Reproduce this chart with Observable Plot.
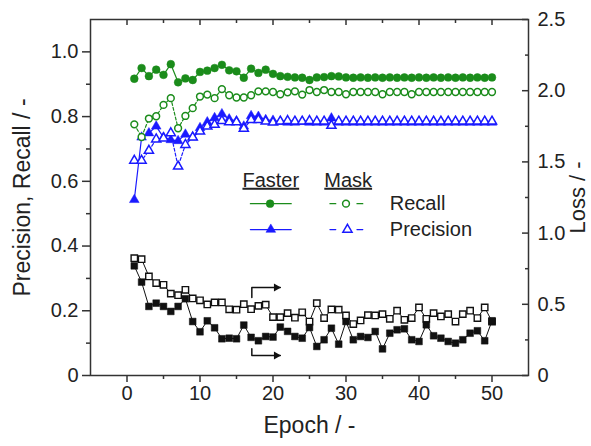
<!DOCTYPE html>
<html><head><meta charset="utf-8">
<script src="https://cdn.jsdelivr.net/npm/d3@7"></script>
<script src="https://cdn.jsdelivr.net/npm/@observablehq/plot@0.6"></script>
<style>body{margin:0;background:#fff}</style>
</head><body><div id="chart"></div>
<script>
// ---- data ----
const epochs = [1,2,3,4,5,6,7,8,9,10,11,12,13,14,15,16,17,18,19,20,21,22,23,24,25,26,27,28,29,30,31,32,33,34,35,36,37,38,39,40,41,42,43,44,45,46,47,48,49,50];
const fasterRecall = [0.917,0.950,0.925,0.945,0.929,0.962,0.906,0.918,0.913,0.938,0.942,0.950,0.960,0.943,0.940,0.920,0.948,0.935,0.945,0.932,0.925,0.923,0.921,0.920,0.913,0.921,0.922,0.925,0.924,0.921,0.920,0.921,0.920,0.921,0.920,0.921,0.920,0.921,0.920,0.921,0.920,0.921,0.920,0.921,0.920,0.921,0.920,0.921,0.920,0.921];
const maskRecall = [0.776,0.737,0.794,0.801,0.836,0.857,0.764,0.802,0.826,0.862,0.868,0.857,0.885,0.866,0.859,0.859,0.866,0.878,0.878,0.876,0.869,0.875,0.878,0.868,0.882,0.876,0.882,0.876,0.876,0.869,0.876,0.876,0.876,0.876,0.869,0.876,0.876,0.876,0.869,0.876,0.876,0.876,0.876,0.876,0.876,0.876,0.876,0.876,0.876,0.876];
const fasterPrecision = [0.543,0.736,0.749,0.770,0.736,0.728,0.725,0.745,0.736,0.765,0.783,0.796,0.808,0.792,0.786,0.770,0.802,0.800,0.790,0.788,0.784,0.782,0.782,0.784,0.782,0.782,0.782,0.795,0.782,0.782,0.782,0.782,0.782,0.782,0.782,0.782,0.782,0.782,0.782,0.782,0.782,0.782,0.782,0.782,0.782,0.782,0.782,0.782,0.782,0.782];
const maskPrecision = [0.664,0.664,0.695,0.730,0.733,0.749,0.646,0.713,0.736,0.754,0.770,0.775,0.787,0.783,0.783,0.763,0.790,0.790,0.785,0.782,0.785,0.787,0.785,0.785,0.787,0.785,0.785,0.772,0.785,0.785,0.785,0.785,0.785,0.785,0.785,0.785,0.785,0.785,0.785,0.785,0.785,0.785,0.785,0.785,0.785,0.785,0.785,0.785,0.785,0.785];
const fasterLoss = [0.770,0.656,0.485,0.508,0.485,0.450,0.485,0.539,0.379,0.307,0.384,0.335,0.258,0.262,0.258,0.354,0.268,0.244,0.274,0.270,0.340,0.310,0.274,0.262,0.337,0.204,0.251,0.332,0.220,0.379,0.251,0.274,0.267,0.309,0.187,0.297,0.321,0.328,0.251,0.239,0.356,0.279,0.262,0.239,0.227,0.251,0.297,0.314,0.244,0.384];
const maskLoss = [0.824,0.817,0.696,0.649,0.637,0.575,0.564,0.602,0.541,0.528,0.499,0.513,0.513,0.465,0.462,0.501,0.466,0.489,0.497,0.410,0.410,0.438,0.406,0.444,0.379,0.508,0.403,0.464,0.462,0.422,0.361,0.387,0.424,0.422,0.431,0.398,0.455,0.391,0.403,0.478,0.398,0.438,0.415,0.431,0.379,0.431,0.455,0.403,0.478,0.379];

const xTicks = [0,10,20,30,40,50];
const xMinor = [5,15,25,35,45];
const leftTicks = [0,0.2,0.4,0.6,0.8,1.0];
const leftMinor = [0.1,0.3,0.5,0.7,0.9];
const rightTicks = [0,0.5,1.0,1.5,2.0,2.5];
const rightMinor = [0.25,0.75,1.25,1.75,2.25];
const legendHeaders = ["Faster","Mask"];
const legendRows = ["Recall","Precision"];
const xTitle = "Epoch / -";
const yTitle = "Precision, Recall / -";
const y2Title = "Loss / -";

// ---- layout ----
const W = 591, H = 446, mL = 90, mR = 63, mT = 19, mB = 71;
const xDom = [-5, 55], yDom = [0, 1.1], lossMax = 2.5;
const k = yDom[1] / lossMax;
const pxX = (W - mL - mR) / (xDom[1] - xDom[0]);
const pxY = (H - mT - mB) / (yDom[1] - yDom[0]);
const lx = px => px / pxX, ly = px => px / pxY;

const GREEN = "#1b8c1b", BLUE = "#1a1aff", BLACK = "#111", AX = "#333";

const rows = epochs.map((e, i) => ({
  epoch: e, fr: fasterRecall[i], mr: maskRecall[i], fp: fasterPrecision[i], mp: maskPrecision[i],
  fl: fasterLoss[i] * k, ml: maskLoss[i] * k
}));

const fmt1 = d => d === 0 ? "0" : d.toFixed(1);

// legend placement (data coordinates)
const legX = {fasterC: 19.7, maskC: 30.3, label: 36.0, fA: 16.9, fB: 22.5};
const legY = {head: 0.603, r1: 0.531, r2: 0.451};
const legFasterLine = [[legX.fA, legY.r1],[legX.fB, legY.r1]];
const legFasterLine2 = [[legX.fA, legY.r2],[legX.fB, legY.r2]];
const legDash = (yy) => [[[27.8, yy],[28.6, yy]], [[31.5, yy],[32.3, yy]]];

// arrows (data coordinates)
const arrowUp = [[17.1, 0.241],[17.1, 0.272],[21.0, 0.272]];
const arrowDown = [[17.1, 0.083],[17.1, 0.062],[21.0, 0.062]];

const marks = [
  Plot.frame({stroke: AX, strokeWidth: 1.5}),
  // ticks
  Plot.ruleY(leftTicks, {y: d => d, x1: xDom[0] - lx(8), x2: xDom[0], stroke: AX, strokeWidth: 1.5}),
  Plot.ruleY(leftMinor, {y: d => d, x1: xDom[0] - lx(4), x2: xDom[0], stroke: AX, strokeWidth: 1.5}),
  Plot.ruleX(xTicks, {x: d => d, y1: -ly(7), y2: 0, stroke: AX, strokeWidth: 1.5}),
  Plot.ruleX(xMinor, {x: d => d, y1: -ly(4), y2: 0, stroke: AX, strokeWidth: 1.5}),
  Plot.ruleX(xTicks, {x: d => d, y1: yDom[1] - ly(6), y2: yDom[1], stroke: AX, strokeWidth: 1.5}),
  Plot.ruleX(xMinor, {x: d => d, y1: yDom[1] - ly(4), y2: yDom[1], stroke: AX, strokeWidth: 1.5}),
  Plot.ruleY(rightTicks, {y: d => d * k, x1: xDom[1] - lx(6), x2: xDom[1], stroke: AX, strokeWidth: 1.5}),
  Plot.ruleY(rightMinor, {y: d => d * k, x1: xDom[1] - lx(3), x2: xDom[1], stroke: AX, strokeWidth: 1.5}),
  // tick labels
  Plot.text(leftTicks, {x: xDom[0], y: d => d, text: fmt1, textAnchor: "end", dx: -12, fontSize: 20}),
  Plot.text(xTicks, {x: d => d, y: 0, text: d => String(d), lineAnchor: "top", dy: 10, fontSize: 20}),
  Plot.text(rightTicks, {x: xDom[1], y: d => d * k, text: fmt1, textAnchor: "start", dx: 9, fontSize: 20}),
  // titles
  Plot.text([yTitle], {frameAnchor: "left", textAnchor: "middle", dx: -68, rotate: -90, fontSize: 23}),
  Plot.text([xTitle], {frameAnchor: "bottom", textAnchor: "middle", dy: 57, fontSize: 23}),
  Plot.text([y2Title], {frameAnchor: "right", textAnchor: "middle", dx: 49, rotate: -90, fontSize: 22}),

  // loss series
  Plot.line(rows, {x: "epoch", y: "ml", stroke: BLACK, strokeWidth: 1}),
  Plot.line(rows, {x: "epoch", y: "fl", stroke: BLACK, strokeWidth: 1}),
  Plot.dot(rows, {x: "epoch", y: "ml", symbol: "square", r: 3.6, fill: "#fff", stroke: BLACK, strokeWidth: 1.4}),
  Plot.dot(rows, {x: "epoch", y: "fl", symbol: "square", r: 3.8, fill: BLACK, stroke: BLACK, strokeWidth: 0.5}),

  // precision
  Plot.line(rows, {x: "epoch", y: "fp", stroke: BLUE, strokeWidth: 1.2}),
  Plot.dot(rows, {x: "epoch", y: "fp", symbol: "triangle", r: 3.6, fill: BLUE, stroke: BLUE, strokeWidth: 0.5}),
  Plot.line(rows, {x: "epoch", y: "mp", stroke: BLUE, strokeWidth: 1.2, strokeDasharray: "3,2"}),
  Plot.dot(rows, {x: "epoch", y: "mp", symbol: "triangle", r: 3.4, fill: "#fff", stroke: BLUE, strokeWidth: 1.5}),

  // recall
  Plot.line(rows, {x: "epoch", y: "fr", stroke: GREEN, strokeWidth: 1.2}),
  Plot.dot(rows, {x: "epoch", y: "fr", symbol: "circle", r: 3.9, fill: GREEN, stroke: GREEN, strokeWidth: 0.5}),
  Plot.line(rows, {x: "epoch", y: "mr", stroke: GREEN, strokeWidth: 1.2, strokeDasharray: "3,2"}),
  Plot.dot(rows, {x: "epoch", y: "mr", symbol: "circle", r: 3.4, fill: "#fff", stroke: GREEN, strokeWidth: 1.5}),

  // arrows
  Plot.line(arrowUp, {stroke: BLACK, strokeWidth: 1.5}),
  Plot.line(arrowDown, {stroke: BLACK, strokeWidth: 1.5}),
  Plot.dot([arrowUp[2], arrowDown[2]], {x: d => d[0] - lx(4), y: d => d[1], symbol: "triangle", r: 3, rotate: 90, fill: BLACK, stroke: "none"}),

  // legend
  Plot.text([legendHeaders[0]], {x: legX.fasterC, y: legY.head, fontSize: 20}),
  Plot.text([legendHeaders[1]], {x: legX.maskC, y: legY.head, fontSize: 20}),
  Plot.text([legendRows[0]], {x: legX.label, y: legY.r1, textAnchor: "start", fontSize: 20}),
  Plot.text([legendRows[1]], {x: legX.label, y: legY.r2, textAnchor: "start", fontSize: 20}),
  Plot.line(legFasterLine, {stroke: GREEN, strokeWidth: 1.2}),
  Plot.line(legFasterLine2, {stroke: BLUE, strokeWidth: 1.2}),
  ...legDash(legY.r1).map(seg => Plot.line(seg, {stroke: GREEN, strokeWidth: 1.2})),
  ...legDash(legY.r2).map(seg => Plot.line(seg, {stroke: BLUE, strokeWidth: 1.2})),
  Plot.dot([[legX.fasterC - 0.1, legY.r1]], {symbol: "circle", r: 3.9, fill: GREEN, stroke: GREEN, strokeWidth: 0.5}),
  Plot.dot([[legX.fasterC, legY.r2]], {symbol: "triangle", r: 3.6, fill: BLUE, stroke: BLUE, strokeWidth: 0.5}),
  Plot.dot([[legX.maskC - 0.3, legY.r1]], {symbol: "circle", r: 3.4, fill: "#fff", stroke: GREEN, strokeWidth: 1.5}),
  Plot.dot([[legX.maskC - 0.1, legY.r2]], {symbol: "triangle", r: 3.4, fill: "#fff", stroke: BLUE, strokeWidth: 1.5})
];

const svg = Plot.plot({
  width: W, height: H,
  marginLeft: mL, marginRight: mR, marginTop: mT, marginBottom: mB,
  x: {domain: xDom, axis: null},
  y: {domain: yDom, axis: null},
  style: {fontFamily: "'Liberation Sans', Arial, sans-serif", fontSize: "20px", color: "#222", background: "#fff"},
  marks
});
d3.select(svg).selectAll("text")
  .filter(function () { return legendHeaders.includes(this.textContent); })
  .style("text-decoration", "underline");
document.getElementById("chart").appendChild(svg);
</script>
</body></html>
